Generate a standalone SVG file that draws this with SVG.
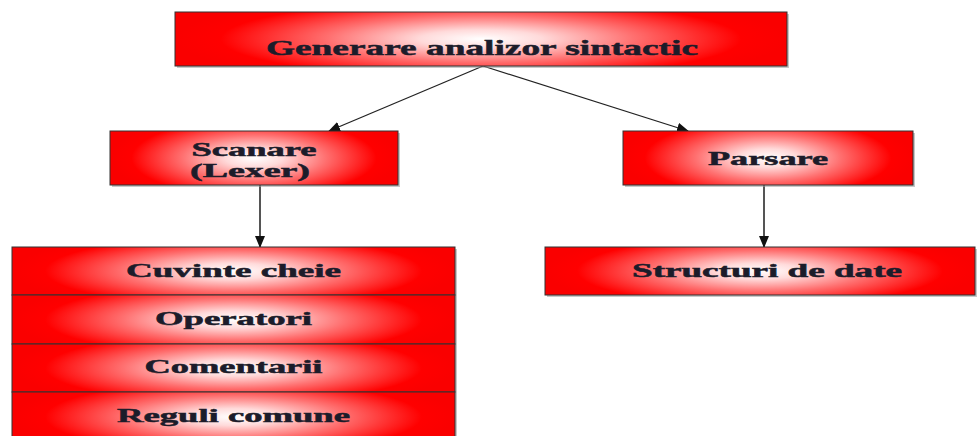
<svg xmlns="http://www.w3.org/2000/svg" width="977" height="436" viewBox="0 0 977 436">
<defs>
<radialGradient id="rg" cx="0.5" cy="0.5" r="0.5" gradientTransform="translate(0.5,0.5) scale(1,1.7) translate(-0.5,-0.5)">
<stop offset="0" stop-color="#ffffff"/>
<stop offset="0.2" stop-color="#ffdada"/>
<stop offset="0.5" stop-color="#ff7070"/>
<stop offset="0.85" stop-color="#ff0000"/>
<stop offset="1" stop-color="#fa0000"/>
</radialGradient>
<marker id="ah" markerWidth="12" markerHeight="10" refX="11" refY="5" orient="auto" markerUnits="userSpaceOnUse">
<path d="M0,0 L12,5 L0,10 z" fill="#111"/>
</marker>
</defs>
<style>
.box{fill:url(#rg);stroke:#333;stroke-width:1}
.sh{fill:#9a9a9a;opacity:0.55}
.t{font-family:"Liberation Serif","Times New Roman",serif;font-weight:bold;fill:#1c1c2a;stroke:#1c1c2a;stroke-width:0.5;text-anchor:middle}
.c{stroke:#222;stroke-width:1.3;fill:none;marker-end:url(#ah)}
.v{stroke:#555;stroke-width:2;fill:none;marker-end:url(#ah)}
</style>
<rect width="977" height="436" fill="#ffffff"/>
<g id="connectors">
<line class="c" x1="483" y1="66" x2="329" y2="131"/>
<line class="c" x1="483" y1="66" x2="688" y2="131"/>
<line class="v" x1="260" y1="185" x2="260" y2="247"/>
<line class="v" x1="764" y1="185" x2="764" y2="247"/>
</g>
<g id="n-top">
<rect class="sh" x="177" y="14" width="612" height="54"/>
<rect class="box" x="175" y="12" width="612" height="54"/>
<text class="t" x="482" y="55" font-size="22" textLength="432" lengthAdjust="spacingAndGlyphs">Generare analizor sintactic</text>
</g>
<g id="n-scanare">
<rect class="sh" x="112" y="133" width="288" height="54"/>
<rect class="box" x="110" y="131" width="288" height="54"/>
<text class="t" x="254" y="156" font-size="18" textLength="125" lengthAdjust="spacingAndGlyphs">Scanare</text>
<text class="t" x="250" y="177" font-size="18" textLength="120" lengthAdjust="spacingAndGlyphs">(Lexer)</text>
</g>
<g id="n-parsare">
<rect class="sh" x="625" y="133" width="290" height="54"/>
<rect class="box" x="623" y="131" width="290" height="54"/>
<text class="t" x="768" y="165" font-size="18" textLength="120" lengthAdjust="spacingAndGlyphs">Parsare</text>
</g>
<g id="n-structuri">
<rect class="sh" x="547" y="249" width="430" height="48"/>
<rect class="box" x="545" y="247" width="430" height="48"/>
<text class="t" x="767" y="277" font-size="18" textLength="270" lengthAdjust="spacingAndGlyphs">Structuri de date</text>
</g>
<g id="n-cuvinte">
<rect class="sh" x="14" y="249" width="443" height="48"/>
<rect class="box" x="12" y="247" width="443" height="48"/>
<text class="t" x="233.5" y="277" font-size="18" textLength="215" lengthAdjust="spacingAndGlyphs">Cuvinte cheie</text>
</g>
<g id="n-operatori">
<rect class="sh" x="14" y="297" width="443" height="49"/>
<rect class="box" x="12" y="295" width="443" height="49"/>
<text class="t" x="233.5" y="325" font-size="18" textLength="157" lengthAdjust="spacingAndGlyphs">Operatori</text>
</g>
<g id="n-comentarii">
<rect class="sh" x="14" y="346" width="443" height="48"/>
<rect class="box" x="12" y="344" width="443" height="48"/>
<text class="t" x="233.5" y="373" font-size="18" textLength="178" lengthAdjust="spacingAndGlyphs">Comentarii</text>
</g>
<g id="n-reguli">
<rect class="sh" x="14" y="394" width="443" height="50"/>
<rect class="box" x="12" y="392" width="443" height="50"/>
<text class="t" x="233.5" y="422" font-size="18" textLength="233" lengthAdjust="spacingAndGlyphs">Reguli comune</text>
</g>
</svg>
